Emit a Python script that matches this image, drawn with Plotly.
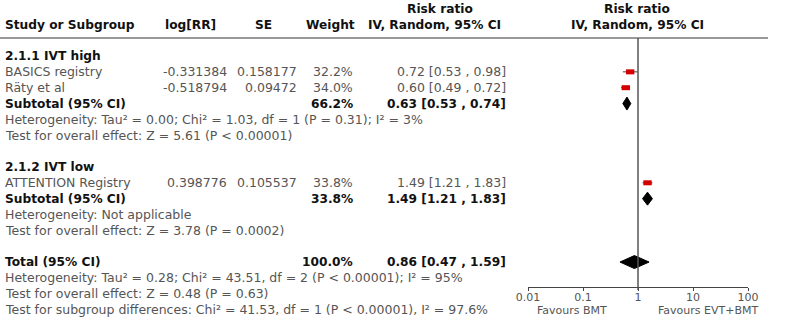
import plotly.graph_objects as go

W, H = 786, 319

# ---------------- data ----------------
group_titles = ["2.1.1 IVT high", "2.1.2 IVT low"]
study = ["BASICS registry", "Räty et al", "ATTENTION Registry"]
study_group = [0, 0, 1]
log_rr = ["-0.331384", "-0.518794", "0.398776"]
se = ["0.158177", "0.09472", "0.105537"]
weight = [32.2, 34.0, 33.8]
rr = [0.72, 0.60, 1.49]
rr_lo = [0.53, 0.49, 1.21]
rr_hi = [0.98, 0.72, 1.83]

pooled_labels = ["Subtotal (95% CI)", "Subtotal (95% CI)", "Total (95% CI)"]
pooled_weight = [66.2, 33.8, 100.0]
pooled_rr = [0.63, 1.49, 0.86]
pooled_lo = [0.53, 1.21, 0.47]
pooled_hi = [0.74, 1.83, 1.59]

pooled_notes = [
    ["Heterogeneity: Tau² = 0.00; Chi² = 1.03, df = 1 (P = 0.31); I² = 3%",
     "Test for overall effect: Z = 5.61 (P < 0.00001)"],
    ["Heterogeneity: Not applicable",
     "Test for overall effect: Z = 3.78 (P = 0.0002)"],
    ["Heterogeneity: Tau² = 0.28; Chi² = 43.51, df = 2 (P < 0.00001); I² = 95%",
     "Test for overall effect: Z = 0.48 (P = 0.63)",
     "Test for subgroup differences: Chi² = 41.53, df = 1 (P < 0.00001), I² = 97.6%"],
]

tick_vals = [0.01, 0.1, 1, 10, 100]
tick_text = ["0.01", "0.1", "1", "10", "100"]
favours = ["Favours BMT", "Favours EVT+BMT"]
col_headers = ["Study or Subgroup", "log[RR]", "SE", "Weight"]
rr_header = ["Risk ratio", "IV, Random, 95% CI"]

# ---------------- layout helpers ----------------
FONT = "DejaVu Sans"
FS = 12.5
FSB = 12.2
GREY = "#555555"
DARK = "#111111"
ROW0 = 56.0
STEP = 15.85

def row_y(i):
    return ROW0 + STEP * i

def fmt_ci(a, b, c):
    return f"{a:.2f} [{b:.2f} , {c:.2f}]"

fig = go.Figure()
ann = []

def text(x, y, s, anchor="left", bold=False, color=None, size=None):
    if bold:
        s = f"<b>{s}</b>"
    if size is None:
        size = FSB if bold else FS
    ann.append(dict(x=x / W, y=y, xref="paper", yref="y", text=s, showarrow=False,
                    xanchor=anchor, yanchor="middle", borderpad=0,
                    font=dict(family=FONT, size=size, color=color or (DARK if bold else GREY))))

# headers
HY1, HY2 = 8.5, 24.5
text(4, HY2, col_headers[0], bold=True)
text(190, HY2, col_headers[1], anchor="center", bold=True)
text(263, HY2, col_headers[2], anchor="center", bold=True)
text(330, HY2, col_headers[3], anchor="center", bold=True)
text(440, HY1, rr_header[0], anchor="center", bold=True)
text(434, HY2, rr_header[1], anchor="center", bold=True)
text(637, HY1, rr_header[0], anchor="center", bold=True)
text(637, HY2, rr_header[1], anchor="center", bold=True)

# build rows
rows = []  # (kind, index)
for g, title in enumerate(group_titles):
    rows.append(("title", g))
    for i, sg in enumerate(study_group):
        if sg == g:
            rows.append(("study", i))
    rows.append(("pooled", g))
    for k in range(len(pooled_notes[g])):
        rows.append(("note", (g, k)))
    rows.append(("blank", None))
rows.append(("pooled", 2))
for k in range(len(pooled_notes[2])):
    rows.append(("note", (2, k)))

MARK = "#d40000"
for r, (kind, idx) in enumerate(rows):
    y = row_y(r)
    if kind == "title":
        text(4, y, group_titles[idx], bold=True)
    elif kind == "study":
        i = idx
        text(4, y, study[i])
        text(228, y, log_rr[i], anchor="right")
        text(298, y, se[i], anchor="right")
        text(354, y, f"{weight[i]:.1f}%", anchor="right")
        text(507, y, fmt_ci(rr[i], rr_lo[i], rr_hi[i]), anchor="right")
        fig.add_trace(go.Scatter(x=[rr_lo[i], rr_hi[i]], y=[y, y], mode="lines",
                                 line=dict(color="#444444", width=1),
                                 hoverinfo="skip", showlegend=False))
        fig.add_trace(go.Scatter(x=[rr[i]], y=[y], mode="markers",
                                 marker=dict(symbol="line-ew", size=6, color=MARK,
                                             line=dict(width=5, color=MARK)),
                                 hoverinfo="skip", showlegend=False))
    elif kind == "pooled":
        g = idx
        text(4, y, pooled_labels[g], bold=True)
        text(354, y, f"{pooled_weight[g]:.1f}%", anchor="right", bold=True)
        text(507, y, fmt_ci(pooled_rr[g], pooled_lo[g], pooled_hi[g]), anchor="right", bold=True)
        h = 6.5
        fig.add_trace(go.Scatter(
            x=[pooled_lo[g], pooled_rr[g], pooled_hi[g], pooled_rr[g], pooled_lo[g]],
            y=[y, y - h, y, y + h, y], mode="lines", fill="toself",
            fillcolor="black", line=dict(color="black", width=1),
            hoverinfo="skip", showlegend=False))
    elif kind == "note":
        g, k = idx
        text(4, y, pooled_notes[g][k])

AXIS_Y = 287
# favours labels
text(572, 310.5, favours[0], anchor="center", size=11)
text(708, 310.5, favours[1], anchor="center", size=11)

shapes = [
    dict(type="line", xref="paper", yref="y", x0=0, x1=768 / W, y0=38, y1=38,
         line=dict(color="#777777", width=1.5)),
    dict(type="line", xref="x", yref="y", x0=1, x1=1, y0=38, y1=AXIS_Y + 3,
         line=dict(color="#555555", width=1.5)),
]

fig.update_layout(
    template="none",
    width=W, height=H, margin=dict(l=0, r=0, t=0, b=0, pad=0, autoexpand=False),
    paper_bgcolor="white", plot_bgcolor="white",
    annotations=ann, shapes=shapes, showlegend=False,
    xaxis=dict(type="log", range=[-2, 2], domain=[528 / W, 748 / W],
               anchor="free", position=(H - AXIS_Y) / H, automargin=False,
               showgrid=False, zeroline=False, showline=True, linecolor="#444444",
               linewidth=1, ticks="outside", ticklen=3, tickcolor="#444444",
               ticklabelstandoff=-3,
               tickvals=tick_vals, ticktext=tick_text,
               tickfont=dict(family=FONT, size=11, color=GREY)),
    yaxis=dict(range=[H, 0], domain=[0, 1], visible=False, fixedrange=True,
               automargin=False),
)

fig.write_html("out.html", config={"displayModeBar": False},
               post_script="document.body.style.margin='0px';")
